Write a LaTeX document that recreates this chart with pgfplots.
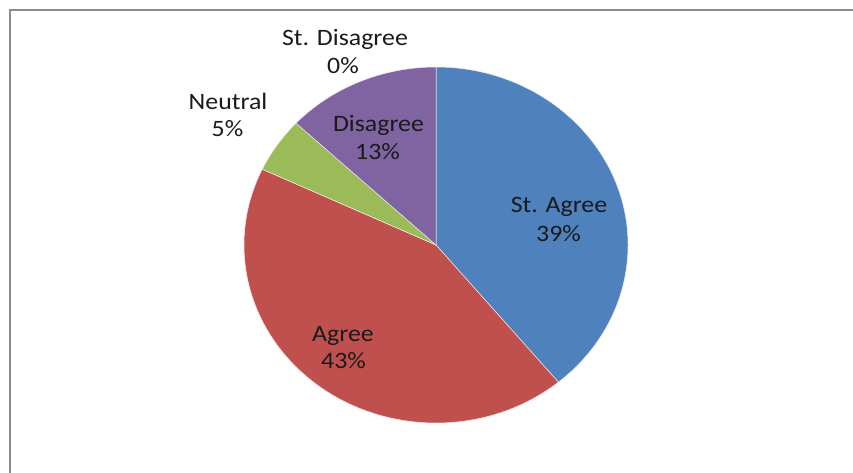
\documentclass[border=0pt]{standalone}
\usepackage{pgfplots}
\pgfplotsset{compat=1.18}
\usepackage{fontspec}
\setmainfont{Carlito}
\definecolor{cA}{HTML}{4F81BD}
\definecolor{cB}{HTML}{C0504D}
\definecolor{cC}{HTML}{9BBB59}
\definecolor{cD}{HTML}{8064A2}
\definecolor{txt}{HTML}{1A1A1A}
\definecolor{frame}{HTML}{8C8C8C}
% slice: #1 cumulative start (%), #2 cumulative end (%), #3 colour
\newcommand\slice[3]{\fill[#3, draw=white!85!#3, line width=0.5pt] (axis cs:436,227) -- +({90-3.6*#1}:192pt and 178pt) arc[start angle={90-3.6*#1}, end angle={90-3.6*#2}, x radius=192pt, y radius=178pt] -- cycle;}
\newcommand\lbl{\fontsize{23.5}{28}\selectfont}
\begin{document}
\begin{tikzpicture}
\path[use as bounding box] (0,0) rectangle (853pt,472pt);
\begin{axis}[x=1pt, y=1pt, xmin=0, xmax=853, ymin=0, ymax=472,
  axis lines=none, ticks=none, clip=true, at={(0,0)}, anchor=origin]
% values: St. Agree 39, Agree 43, Neutral 5, Disagree 13, St. Disagree 0
\slice{0}{39}{cA}
\slice{39}{82}{cB}
\slice{82}{87}{cC}
\slice{87}{100}{cD}
\draw[frame, line width=2pt] (axis cs:9.5,-20) -- (axis cs:9.5,462) -- (axis cs:900,462);
\node[anchor=base, font=\lbl, text=txt, xscale=1.1] at (axis cs:559,260) {St. Agree};
\node[anchor=base, font=\lbl, text=txt, xscale=1.1] at (axis cs:558.5,231) {39\%};
\node[anchor=base, font=\lbl, text=txt, xscale=1.1] at (axis cs:343,130.3) {Agree};
\node[anchor=base, font=\lbl, text=txt, xscale=1.1] at (axis cs:343.5,103.7) {43\%};
\node[anchor=base, font=\lbl, text=txt, xscale=1.1] at (axis cs:228,362) {Neutral};
\node[anchor=base, font=\lbl, text=txt, xscale=1.1] at (axis cs:227.5,335.3) {5\%};
\node[anchor=base, font=\lbl, text=txt, xscale=1.1] at (axis cs:378.5,340.3) {Disagree};
\node[anchor=base, font=\lbl, text=txt, xscale=1.1] at (axis cs:377.5,312.7) {13\%};
\node[anchor=base, font=\lbl, text=txt, xscale=1.1] at (axis cs:345,426.3) {St. Disagree};
\node[anchor=base, font=\lbl, text=txt, xscale=1.1] at (axis cs:343,398.7) {0\%};
\end{axis}
\end{tikzpicture}
\end{document}
